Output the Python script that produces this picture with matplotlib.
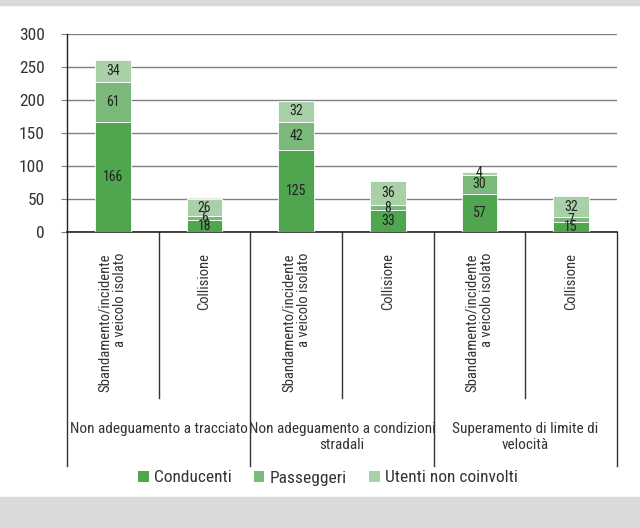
import matplotlib
matplotlib.use("Agg")
import matplotlib.pyplot as plt
import matplotlib.transforms as mtransforms
from matplotlib.patches import Rectangle, Patch
from matplotlib.lines import Line2D
import numpy as np

plt.rcParams['font.family'] = ['Roboto Condensed', 'Fira Sans Condensed', 'DejaVu Sans']
plt.rcParams['font.weight'] = 'normal'

groups = ["Non adeguamento a tracciato", "Non adeguamento a condizioni\nstradali",
          "Superamento di limite di\nvelocità"]
subcats = ["Sbandamento/incidente\na veicolo isolato", "Collisione"] * 3
series_names = ["Conducenti", "Passeggeri", "Utenti non coinvolti"]
conducenti = [166, 18, 125, 33, 57, 15]
passeggeri = [61, 6, 42, 8, 30, 7]
utenti = [34, 26, 32, 36, 4, 32]
colors = ["#4fa64f", "#7bb97b", "#a9d1a9"]
yticks = [0, 50, 100, 150, 200, 250, 300]

W, H = 640, 528
fig = plt.figure(figsize=(W / 100, H / 100), dpi=100)
fig.patches.append(Rectangle((0, 1 - 5 / H), 1, 5 / H, transform=fig.transFigure,
                             color="#d9dadc", zorder=0))
fig.patches.append(Rectangle((0, 0), 1, 31 / H, transform=fig.transFigure,
                             color="#d9dadc", zorder=0))

ax_l, ax_r, ax_t, ax_b = 67, 617, 34, 232
ax = fig.add_axes([ax_l / W, 1 - ax_b / H, (ax_r - ax_l) / W, (ax_b - ax_t) / H])

x = np.arange(len(conducenti))
bottom = np.zeros(len(x))
for vals, c, name in zip([conducenti, passeggeri, utenti], colors, series_names):
    vals = np.array(vals, dtype=float)
    ax.bar(x, vals, bottom=bottom, width=0.39, color=c, edgecolor="white",
           linewidth=0.6, label=name, zorder=3)
    for xi, v, b in zip(x, vals, bottom):
        ax.text(xi, b + v / 2, f"{int(v)}", ha="center", va="center",
                fontsize=10, color="#222222", zorder=4)
    bottom += vals

ax.set_xlim(-0.5, len(x) - 0.5)
ax.set_ylim(0, 300)
ax.set_yticks(yticks)
ax.set_yticklabels([str(t) for t in yticks], fontsize=12.5, color="#333333")
ax.set_xticks([])
ax.grid(axis="y", color="#808080", linewidth=1.0, zorder=0)
ax.set_axisbelow(True)
for s in ["top", "right"]:
    ax.spines[s].set_visible(False)
ax.spines["left"].set_color("#222222")
ax.spines["bottom"].set_color("#222222")
ax.spines["left"].set_linewidth(1.0)
ax.spines["bottom"].set_linewidth(1.2)
ax.tick_params(axis="y", length=4, color="#808080", pad=12)

axh = ax_b - ax_t
trans = mtransforms.blended_transform_factory(ax.transData, ax.transAxes)

def yfrac(py):
    return (ax_b - py) / axh

# separators
for b in [-0.5, 1.5, 3.5, 5.5]:
    ax.add_line(Line2D([b, b], [0, yfrac(466)], transform=trans, color="#333333",
                       linewidth=1.0, clip_on=False))
for b in [0.5, 2.5, 4.5]:
    ax.add_line(Line2D([b, b], [0, yfrac(398)], transform=trans, color="#333333",
                       linewidth=1.0, clip_on=False))

for xi, lab in zip(x, subcats):
    ax.text(xi, yfrac(253), lab, transform=trans, rotation=90, ha="center", va="top",
            multialignment="right", fontsize=10.5, color="#333333", linespacing=1.1)

for gi, g in enumerate(groups):
    ax.text(2 * gi + 0.5, yfrac(422), g, transform=trans, ha="center", va="top",
            multialignment="center", fontsize=11, color="#333333", linespacing=1.15)

handles = [Patch(facecolor=c, edgecolor="none") for c in colors]
fig.legend(handles, series_names, loc="center", bbox_to_anchor=(328 / W, 1 - 478 / H),
           ncol=3, frameon=False, fontsize=12.5, handlelength=0.6, handleheight=0.6,
           handletextpad=0.3, columnspacing=1.3, labelcolor="#333333")

fig.savefig("out.png", dpi=100)
